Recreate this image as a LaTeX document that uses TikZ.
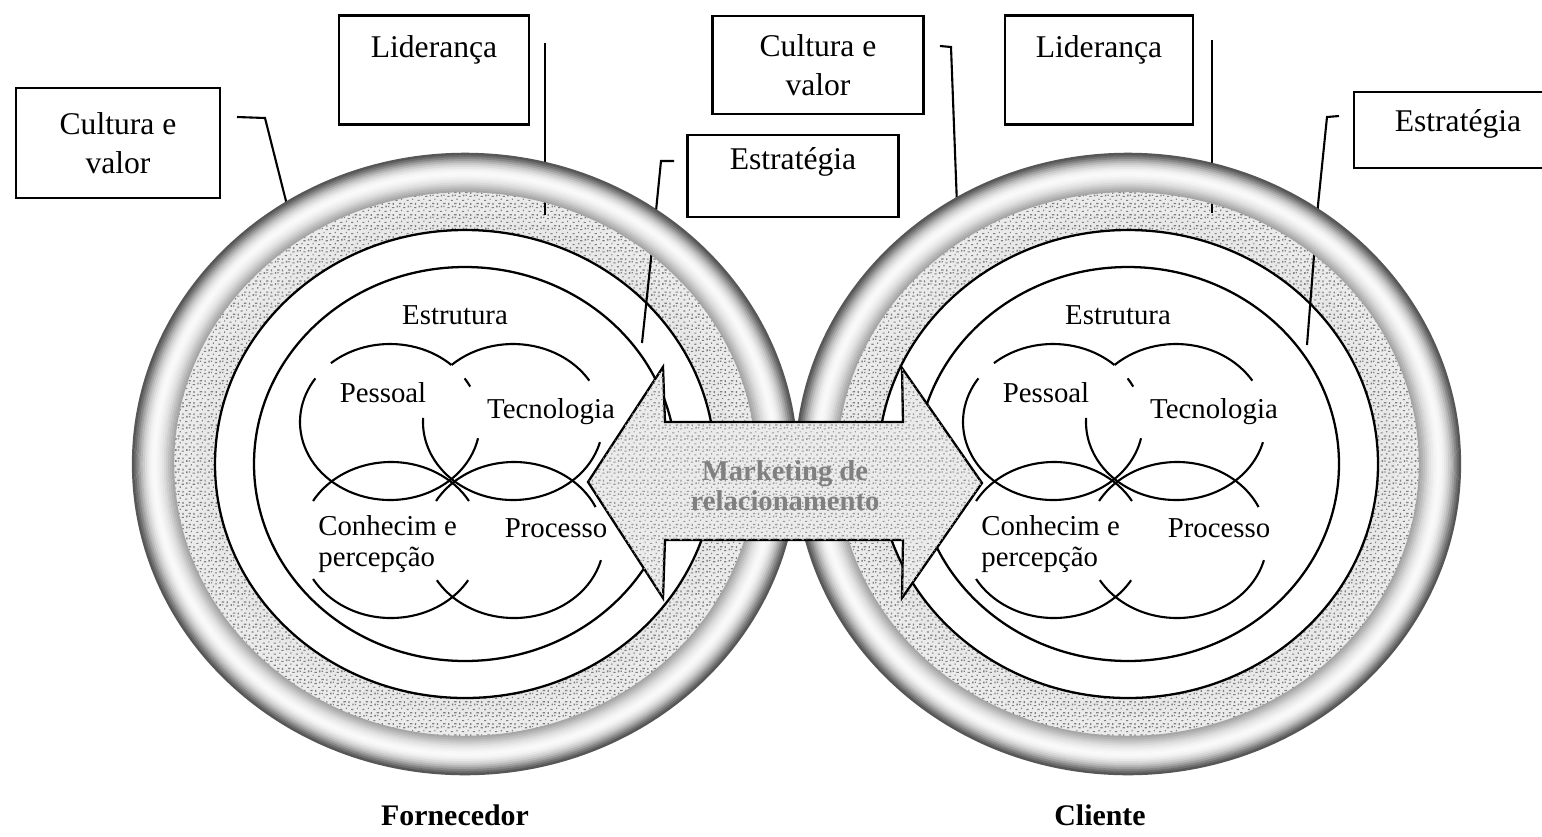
\documentclass[tikz,border=0pt]{standalone}
\usepackage{fontspec}
\setmainfont{Liberation Serif}
\usetikzlibrary{patterns}
\pgfdeclarepatternformonly{speckle}{\pgfqpoint{-0.5pt}{-0.5pt}}{\pgfqpoint{7pt}{7pt}}{\pgfqpoint{6.3pt}{6.3pt}}{
    \pgfpathrectangle{\pgfqpoint{0.2pt}{0.5pt}}{\pgfqpoint{1.4pt}{0.7pt}}
    \pgfpathrectangle{\pgfqpoint{3.0pt}{0.1pt}}{\pgfqpoint{0.7pt}{1.1pt}}
    \pgfpathrectangle{\pgfqpoint{4.6pt}{2.4pt}}{\pgfqpoint{1.2pt}{0.6pt}}
    \pgfpathrectangle{\pgfqpoint{1.5pt}{2.9pt}}{\pgfqpoint{0.6pt}{0.8pt}}
    \pgfpathrectangle{\pgfqpoint{2.6pt}{4.6pt}}{\pgfqpoint{1.3pt}{0.6pt}}
    \pgfpathrectangle{\pgfqpoint{0.4pt}{5.2pt}}{\pgfqpoint{0.7pt}{0.7pt}}
    \pgfpathrectangle{\pgfqpoint{5.2pt}{5.0pt}}{\pgfqpoint{0.8pt}{1.0pt}}
    \pgfusepath{fill}
}
\tikzset{
    lblbox/.style={draw, line width=1.2pt, inner sep=0pt},
    lbltext/.style={inner sep=0pt, align=center, font=\fontsize{18}{22}\selectfont},
    inlbl/.style={inner sep=0pt, align=left, font=\fontsize{16.4}{18}\selectfont},
    lead/.style={line width=1.2pt},
    cell/.style={line width=1.2pt},
    ringline/.style={line width=1.3pt}
}

\begin{document}
\begin{tikzpicture}[x=0.02cm, y=-0.02cm]
    \useasboundingbox (0,0) rectangle (1542,836);
    \fill[white] (0,0) rectangle (1542,836);

    \foreach \cx/\nm in {465/L, 1128/R} {
        \begin{scope}[shift={(\cx,464)}]
            \fill[black!9, even odd rule]
                (0,0) ellipse [x radius=291, y radius=272]
                (0,0) ellipse [x radius=250, y radius=234];
            \fill[black!8, even odd rule]
                (0,0) ellipse [x radius=291, y radius=272]
                (0,0) ellipse [x radius=268, y radius=251];
            \fill[pattern=speckle, pattern color=black!50, even odd rule]
                (0,0) ellipse [x radius=291, y radius=272]
                (0,0) ellipse [x radius=250, y radius=234];
            \draw[ringline] (0,0) ellipse [x radius=250, y radius=234];
            \draw[ringline] (0,0) ellipse [x radius=211, y radius=197];
            \foreach \px/\py/\a/\b in {-75/-42/229/313, -75/-42/326/333, -75/-42/12/214,
                    48/-42/227/328, 48/-42/15/183, -74/76/210/330, -74/76/31/150,
                    49/76/210/335, 49/76/15/149}
                \draw[cell] (\px,\py) ++(\a:90 and 78)
                    arc [start angle=\a, end angle=\b, x radius=90, y radius=78];
            \node[inlbl] (estr\nm) at (-10,-149) {Estrutura};
            \node[inlbl] (pess\nm) at (-82,-71) {Pessoal};
            \node[inlbl] (tecn\nm) at (86,-52) {Tecnologia};
            \node[inlbl, anchor=west] (conh\nm) at (-147,80) {Conhecim e\\percepção};
            \node[inlbl] (proc\nm) at (91,64) {Processo};
        \end{scope}
    }

    \coordinate (cvLa) at (237,117);
    \coordinate (cvLb) at (287,205);
    \coordinate (lidLa) at (545,43);
    \coordinate (lidLb) at (545,215);
    \coordinate (estLa) at (674,161);
    \coordinate (estLb) at (642,343);
    \coordinate (cvMa) at (940,46);
    \coordinate (cvMb) at (957,205);
    \coordinate (lidRa) at (1212,40);
    \coordinate (lidRb) at (1212,213);
    \coordinate (estRa) at (1339,116);
    \coordinate (estRb) at (1307,345);
    \draw[lead] (cvLa) -- ++(28,1) -- (cvLb);
    \draw[lead] (lidLa) -- (lidLb);
    \draw[lead] (estLa) -- ++(-13,0) -- (655,221) -- (estLb);
    \draw[lead] (cvMa) -- ++(11,1) -- (cvMb);
    \draw[lead] (lidRa) -- (lidRb);
    \draw[lead] (estRa) -- ++(-12,1) -- (1318,205) -- (estRb);

    \foreach \cx in {465, 1128}
        \foreach \i/\g in {0/35, 1/30, 2/25, 3/20, 4/15, 5/11, 6/8, 7/5, 8/3, 9/2,
                10/3, 11/5, 12/9, 13/14, 14/20, 15/28, 16/37, 17/47, 18/57, 19/66}
            \draw[black!\g, line width=1.4pt] (\cx,464)
                ellipse [x radius={292+2.1*\i}, y radius={273+1.95*\i}];

    \draw[line width=1.3pt, fill=black!8,
        postaction={pattern=speckle, pattern color=black!40}]
        (588,482) -- (663,367) -- (665,422) -- (903,422) -- (902,368) -- (982,483)
        -- (902,598) -- (903,540) -- (665,540) -- (663,598) -- cycle;
    \node[inner sep=0pt, align=center, text=black!50,
        font=\fontsize{16.3}{17}\selectfont\bfseries] (mkt) at (785,486) {Marketing de\\relacionamento};

    \node[lblbox, lbltext, minimum width=4.08cm, minimum height=2.2cm] (cvL) at (118,143) {Cultura e\\valor};
    \node[lblbox, minimum width=3.8cm, minimum height=2.18cm] (lidL) at (434,70) {};
    \node[lbltext] (lidLt) at (434,50) {Liderança};
    \node[lblbox, lbltext, minimum width=4.22cm, minimum height=1.96cm] (cvM) at (818,65) {Cultura e\\valor};
    \node[lblbox, minimum width=4.22cm, minimum height=1.64cm] (estL) at (793,176) {};
    \node[lbltext] (estLt) at (793,162) {Estratégia};
    \node[lblbox, minimum width=3.76cm, minimum height=2.18cm] (lidR) at (1099,70) {};
    \node[lbltext] (lidRt) at (1099,50) {Liderança};
    \node[lblbox, minimum width=3.88cm, minimum height=1.52cm] (estR) at (1451,130) {};
    \node[lbltext] (estRt) at (1458,124) {Estratégia};

    \node[inner sep=0pt, font=\fontsize{17}{20}\selectfont\bfseries] (forn) at (455,815) {Fornecedor};
    \node[inner sep=0pt, font=\fontsize{17}{20}\selectfont\bfseries] (clie) at (1100,815) {Cliente};
\end{tikzpicture}
\end{document}
